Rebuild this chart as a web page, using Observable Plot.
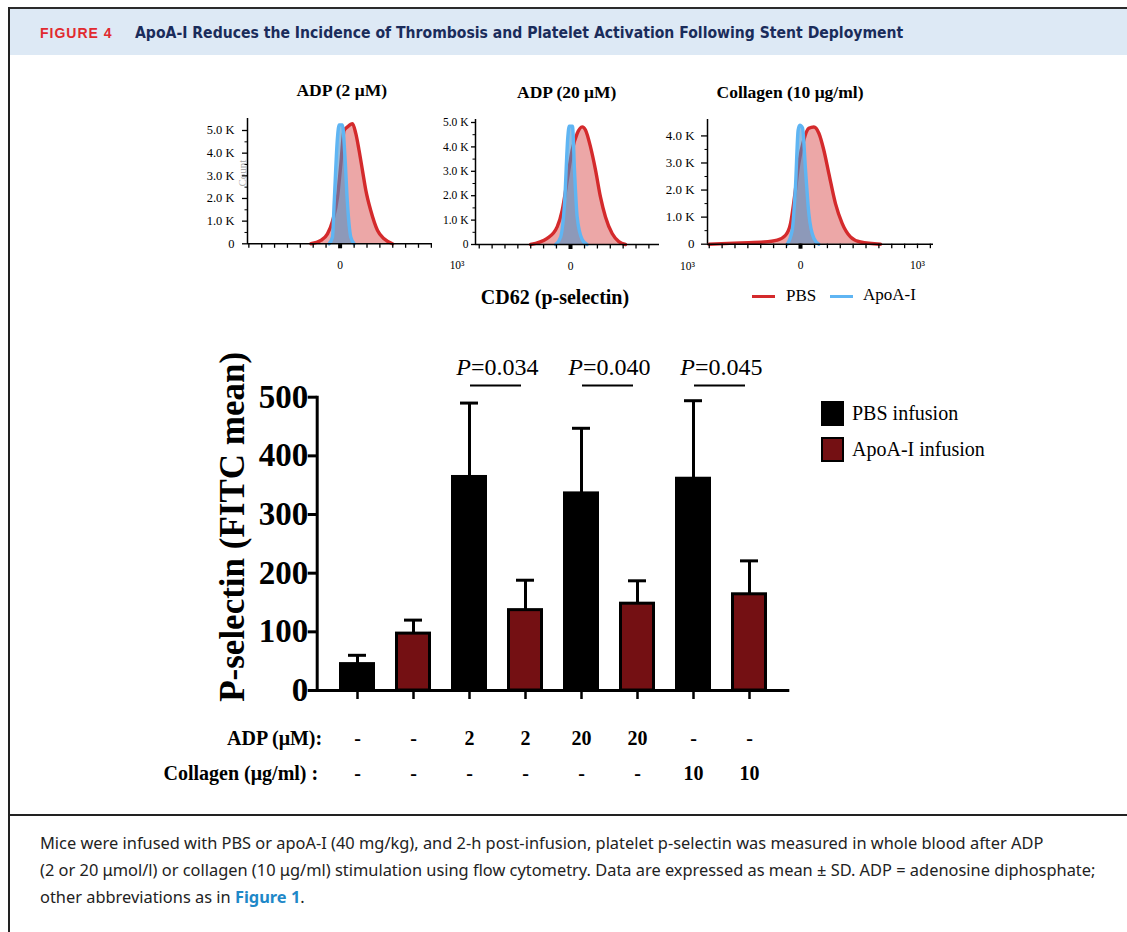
<!DOCTYPE html>
<html><head><meta charset="utf-8">
<script src="https://cdn.jsdelivr.net/npm/d3@7"></script>
<script src="https://cdn.jsdelivr.net/npm/@observablehq/plot@0.6"></script>
<style>
body{margin:0;background:#fff;}
#fig{position:relative;width:1127px;height:932px;overflow:hidden;background:#fff;}
svg{overflow:visible;}
</style></head><body><div id="fig"></div>
<script>
// ================= DATA =================
// Bar chart (P-selectin, FITC mean, mean ± SD)
const conditions = ["PBS / none", "ApoA-I / none", "PBS / ADP 2", "ApoA-I / ADP 2", "PBS / ADP 20", "ApoA-I / ADP 20", "PBS / collagen 10", "ApoA-I / collagen 10"];
const infusionOf = ["PBS infusion", "ApoA-I infusion", "PBS infusion", "ApoA-I infusion", "PBS infusion", "ApoA-I infusion", "PBS infusion", "ApoA-I infusion"];
const infusionGroups = ["PBS infusion", "ApoA-I infusion"];
const infusionColors = ["#000000", "#741013"];
const meanValues = [45, 97, 364, 137, 336, 148, 361, 164];
const sdValues = [15, 23, 126, 51, 111, 39, 133, 57];
const adpRow = ["-", "-", "2", "2", "20", "20", "-", "-"];
const collagenRow = ["-", "-", "-", "-", "-", "-", "10", "10"];
const rowLabels = ["ADP (μM):", "Collagen (μg/ml) :"];
const yTickValues = [0, 100, 200, 300, 400, 500];
const yAxisLabel = "P-selectin (FITC mean)";
const pairFirst = [conditions[2], conditions[4], conditions[6]];
const pairSecond = [conditions[3], conditions[5], conditions[7]];
const pValueText = ["=0.034", "=0.040", "=0.045"];
const bracketLevel = 520;

// Flow cytometry histograms (CD62 / p-selectin), x in display units (10³ = 1000), count
const histTitles = ["ADP (2 μM)", "ADP (20 μM)", "Collagen (10 μg/ml)"];
const histSeries = ["PBS", "ApoA-I"];
const histStroke = ["#d42a2c", "#5fb5f3"];
const histFill = ["#d64545", "#4f8fc4"];
const adp2PbsX = [-250, -165, -108, -65, -22, 6, 34, 63, 106, 134, 162, 191, 220, 262, 320, 376, 448];
const adp2PbsCount = [0, 150, 440, 1000, 2060, 3500, 5000, 5160, 5300, 4870, 4130, 3240, 2360, 1470, 590, 220, 0];
const adp2ApoX = [-94, -65, -51, -22, -8, 20, 40, 63, 91, 120];
const adp2ApoCount = [0, 300, 1770, 4720, 5250, 5250, 3980, 1770, 300, 0];
const adp20PbsX = [-342, -199, -114, -71, -28, 14, 57, 100, 128, 171, 214, 256, 299, 356, 413, 470];
const adp20PbsCount = [0, 250, 720, 1400, 2630, 3860, 4550, 4820, 4690, 4000, 3050, 1950, 1130, 450, 120, 0];
const adp20ApoX = [-128, -85, -51, -23, -11, 17, 34, 57, 100, 142];
const adp20ApoCount = [0, 300, 1680, 4400, 4850, 4850, 3050, 1130, 200, 0];
const collPbsX = [-783, -513, -313, -199, -128, -85, -51, -14, 28, 71, 114, 157, 199, 242, 299, 356, 427, 513, 684];
const collPbsCount = [0, 50, 80, 150, 330, 770, 1750, 3000, 3850, 4280, 4330, 4100, 3480, 2620, 1500, 770, 270, 80, 0];
const collApoX = [-114, -71, -43, -20, -6, 17, 43, 71, 114, 157];
const collApoCount = [0, 520, 2120, 4220, 4400, 4300, 2740, 1140, 220, 0];
const histYTicks = [[0, 1000, 2000, 3000, 4000, 5000], [0, 1000, 2000, 3000, 4000, 5000], [0, 1000, 2000, 3000, 4000]];
const histYMinor = [[500, 1500, 2500, 3500, 4500], [500, 1500, 2500, 3500, 4500], [500, 1500, 2500, 3500]];
const histXTicks = [-780, -670, -560, -450, -340, -230, -120, 0, 120, 230, 340, 450, 560, 670, 780, 890, 1000, 1110];
const histXLabelValues = [0, 1000];
const histXLabelText = ["0", "10³"];
const histXAxisTitle = "CD62 (p-selectin)";
const countLabel = "Count";

// Text
const figureNumber = "FIGURE 4";
const figureTitle = "ApoA-I Reduces the Incidence of Thrombosis and Platelet Activation Following Stent Deployment";
const captionLines = [
  "Mice were infused with PBS or apoA-I (40 mg/kg), and 2-h post-infusion, platelet p-selectin was measured in whole blood after ADP",
  "(2 or 20 μmol/l) or collagen (10 μg/ml) stimulation using flow cytometry. Data are expressed as mean ± SD. ADP = adenosine diphosphate;",
  "other abbreviations as in "
];
const captionLink = "Figure 1";

// ================= LAYOUT =================
const serif = '"Liberation Serif","Times New Roman",serif';
const fig = document.getElementById("fig");
function div(html, css) { const d = document.createElement("div"); d.innerHTML = html; d.style.cssText = "position:absolute;" + css; fig.appendChild(d); return d; }
function put(svg, left, top) { svg.style.position = "absolute"; svg.style.left = left + "px"; svg.style.top = top + "px"; svg.style.maxWidth = "none"; fig.appendChild(svg); }

// Frame & header
div("", "left:9px;top:9px;width:1118px;height:46px;background:#dde9f5");
div("", "left:8px;top:7px;width:1119px;height:2px;background:#2b2b2b");
div("", "left:8px;top:7px;width:1.5px;height:925px;background:#222");
div("", "left:8px;top:814px;width:1119px;height:1.5px;background:#222");
div(figureNumber, "left:40px;top:23px;line-height:20px;font-family:'Liberation Sans',Arial,sans-serif;font-weight:bold;font-size:14px;letter-spacing:1px;color:#e12a2f;white-space:nowrap");
div(figureTitle, "left:135px;top:23px;line-height:20px;font-family:'Liberation Sans Narrow','DejaVu Sans Condensed','Roboto',sans-serif;font-weight:bold;font-size:15.6px;color:#1a2c5b;white-space:nowrap");

// Caption
div(captionLines[0] + "<br>" + captionLines[1] + "<br>" + captionLines[2] + `<b style="color:#1e88c8">${captionLink}</b>.`,
  "left:40px;top:829px;line-height:27px;font-family:'Noto Sans',sans-serif;font-size:16.4px;color:#222;white-space:nowrap");

// ================= HISTOGRAMS =================
const pxPerUnit = 0.117;
const histLayout = [
  {left: 246.7, right: 431.7, zero: 339.3, top: 118, base: 243.3, pxPerK: 22.66, tickSize: 5, tickPadding: 8, fontSize: 12.5, titleX: 341.7, titleY: 90},
  {left: 475, right: 659, zero: 570, top: 119.3, base: 244.3, pxPerK: 24.4, tickSize: 4, tickPadding: 3, fontSize: 11.5, titleX: 566.7, titleY: 91.7},
  {left: 707, right: 933, zero: 800, top: 119.3, base: 244, pxPerK: 27.07, tickSize: 6, tickPadding: 7, fontSize: 13, titleX: 790, titleY: 91.7}
];
const histData = [
  [d3.zip(adp2PbsX, adp2PbsCount), d3.zip(adp2ApoX, adp2ApoCount)],
  [d3.zip(adp20PbsX, adp20PbsCount), d3.zip(adp20ApoX, adp20ApoCount)],
  [d3.zip(collPbsX, collPbsCount), d3.zip(collApoX, collApoCount)]
].map(pair => pair.map(s => s.map(([x, count]) => ({x, count}))));

histLayout.forEach((L, k) => {
  const xDomain = [(L.left - L.zero) / pxPerUnit, (L.right - L.zero) / pxPerUnit];
  const yDomain = [0, (L.base - L.top) / L.pxPerK * 1000];
  const mL = 60, mT = 8, mR = 45, mB = 32;
  const inX = v => v >= xDomain[0] - 1 && v <= xDomain[1] + 1;
  const labels = histXLabelValues.map((v, i) => ({v, t: histXLabelText[i]}));
  const [pbs, apo] = histData[k];
  const curve = "monotone-x";
  const marks = [
    Plot.areaY(pbs, {x: "x", y: "count", curve, fill: histFill[0], fillOpacity: 0.47}),
    Plot.lineY(pbs, {x: "x", y: "count", curve, stroke: histStroke[0], strokeWidth: 3.4}),
    Plot.areaY(apo, {x: "x", y: "count", curve, fill: histFill[1], fillOpacity: 0.6}),
    Plot.lineY(apo, {x: "x", y: "count", curve, stroke: histStroke[1], strokeWidth: 3.4}),
    Plot.ruleY([0], {strokeWidth: 1.5}),
    Plot.ruleX([xDomain[0]], {strokeWidth: 1.5}),
    Plot.axisY({ticks: histYMinor[k], tickSize: 2.5, tickFormat: () => "", label: null}),
    Plot.axisY({ticks: histYTicks[k], tickSize: L.tickSize, tickPadding: L.tickPadding, strokeWidth: 1.3, fontSize: L.fontSize,
      tickFormat: d => d === 0 ? "0" : (d / 1000).toFixed(1) + " K", label: null}),
    Plot.axisX({ticks: histXTicks.filter(inX), tickSize: 4.5, strokeWidth: 1.3, tickFormat: () => "", label: null}),
    Plot.axisX({ticks: [0], tickSize: 5, strokeWidth: 4, tickFormat: () => "", label: null}),
    Plot.text(labels, {x: "v", text: "t", frameAnchor: "bottom", lineAnchor: "middle", dy: 21.5, fontSize: 11.5})
  ];
  if (k === 0) marks.push(Plot.text([countLabel], {frameAnchor: "left", textAnchor: "middle", lineAnchor: "middle", rotate: -90, dx: -5, dy: -8, fontSize: 11, fill: "#555", fillOpacity: 0.5}));
  const svg = Plot.plot({
    width: mL + (L.right - L.left) + mR,
    height: mT + (L.base - L.top) + mB,
    marginLeft: mL, marginTop: mT, marginRight: mR, marginBottom: mB,
    style: {fontFamily: serif, color: "#000", background: "transparent", overflow: "visible"},
    x: {domain: xDomain},
    y: {domain: yDomain},
    marks
  });
  put(svg, L.left - mL, L.top - mT);
  div(histTitles[k], `left:${L.titleX}px;top:${L.titleY - 10}px;line-height:20px;transform:translateX(-50%);font-family:${serif};font-weight:bold;font-size:17.5px;white-space:nowrap;color:#000`);
});
div(histXAxisTitle, `left:555px;top:285px;line-height:24px;transform:translateX(-50%);font-family:${serif};font-weight:bold;font-size:20px;white-space:nowrap;color:#000`);
// histogram legend
div("", `left:751.7px;top:294.5px;width:23.3px;height:3px;background:${histStroke[0]}`);
div(histSeries[0], `left:786px;top:286px;line-height:20px;font-family:${serif};font-size:17px;white-space:nowrap;color:#000`);
div("", `left:830px;top:294.5px;width:23.3px;height:3px;background:${histStroke[1]}`);
div(histSeries[1], `left:863px;top:285px;line-height:20px;font-family:${serif};font-size:17px;white-space:nowrap;color:#000`);

// ================= BAR CHART =================
const barData = conditions.map((c, i) => ({cond: c, infusion: infusionOf[i], mean: meanValues[i], sd: sdValues[i], adp: adpRow[i], collagen: collagenRow[i]}));
const pairs = pValueText.map((p, i) => ({a: pairFirst[i], b: pairSecond[i], p}));
const bold20 = {fontSize: 20, fontWeight: "bold", lineAnchor: "middle"};

const barSvg = Plot.plot({
  width: 660, height: 460,
  marginLeft: 166.7, marginRight: 20.7, marginTop: 56.7, marginBottom: 110,
  style: {fontFamily: serif, fontSize: "20px", color: "#000", background: "transparent", overflow: "visible"},
  x: {type: "band", domain: conditions, paddingInner: 0.353, paddingOuter: 0.344},
  y: {domain: [0, 500]},
  color: {domain: infusionGroups, range: infusionColors},
  marks: [
    Plot.ruleX(barData, {x: "cond", y1: "mean", y2: d => d.mean + d.sd, strokeWidth: 3}),
    Plot.tickY(barData, {x: "cond", y: d => d.mean + d.sd, strokeWidth: 3, insetLeft: 9, insetRight: 9}),
    Plot.barY(barData, {x: "cond", y: "mean", fill: "infusion", stroke: "#000", strokeWidth: 3, insetLeft: 1.5, insetRight: 1.5}),
    Plot.ruleY([0], {strokeWidth: 3}),
    Plot.frame({anchor: "left", strokeWidth: 3}),
    Plot.axisY({ticks: yTickValues, tickSize: 9, tickPadding: 0, strokeWidth: 3, fontSize: 33, fontWeight: "bold", label: null}),
    Plot.axisX({tickSize: 9, strokeWidth: 2.5, tickFormat: () => "", label: null}),
    Plot.text([yAxisLabel], {frameAnchor: "left", textAnchor: "middle", lineAnchor: "middle", rotate: -90, dx: -84.7, dy: -17, fontSize: 35, fontWeight: "bold"}),
    // significance brackets
    Plot.ruleY(pairs, {x1: "a", x2: "b", y: () => bracketLevel, strokeWidth: 2, insetLeft: 19, insetRight: 22}),
    Plot.text(pairs, {x: "a", text: () => "P", frameAnchor: "top", textAnchor: "end", lineAnchor: "middle", dx: 1.5, dy: -29.5, fontSize: 24, fontStyle: "italic"}),
    Plot.text(pairs, {x: "a", text: "p", frameAnchor: "top", textAnchor: "start", lineAnchor: "middle", dx: 1.5, dy: -29.5, fontSize: 24}),
    // condition table
    Plot.text(barData, {x: "cond", text: "adp", frameAnchor: "bottom", dy: 48, ...bold20}),
    Plot.text(barData, {x: "cond", text: "collagen", frameAnchor: "bottom", dy: 83, ...bold20}),
    Plot.text([rowLabels[0]], {frameAnchor: "bottom-left", textAnchor: "end", dx: 5, dy: 48, ...bold20}),
    Plot.text([rowLabels[1]], {frameAnchor: "bottom-left", textAnchor: "end", dx: 1, dy: 83, ...bold20})
  ]
});
put(barSvg, 150, 340);

// bar legend
infusionGroups.forEach((g, i) => {
  const top = [401, 437][i];
  div("", `left:821px;top:${top}px;width:19px;height:21px;border:2px solid #000;background:${infusionColors[i]}`);
  div(g, `left:852px;top:${top}px;line-height:25px;font-family:${serif};font-size:20px;white-space:nowrap;color:#000`);
});
</script></body></html>
